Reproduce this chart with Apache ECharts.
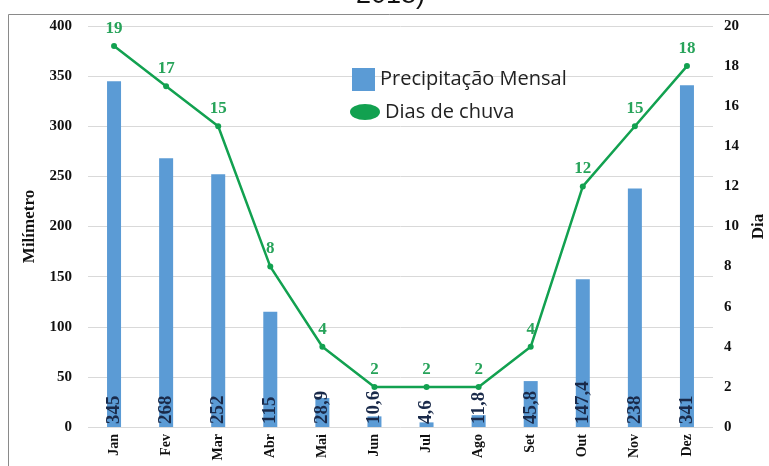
<!DOCTYPE html>
<html>
<head>
<meta charset="utf-8">
<script src="https://cdn.jsdelivr.net/npm/echarts@6.0.0/dist/echarts.min.js"></script>
<style>
  html, body { margin: 0; padding: 0; background: #ffffff; }
  #chart { width: 769px; height: 466px; }
</style>
</head>
<body>
<div id="chart"></div>
<script>
const months = ["Jan", "Fev", "Mar", "Abr", "Mai", "Jun", "Jul", "Ago", "Set", "Out", "Nov", "Dez"];
const rainfall = [345, 268, 252, 115, 28.9, 10.6, 4.6, 11.8, 45.8, 147.4, 238, 341];
const rainyDays = [19, 17, 15, 8, 4, 2, 2, 2, 4, 12, 15, 18];
const mmTicks = [0, 50, 100, 150, 200, 250, 300, 350, 400];
const dayTicks = [0, 2, 4, 6, 8, 10, 12, 14, 16, 18, 20];

const BAR_NAME = "Precipitação Mensal";
const LINE_NAME = "Dias de chuva";
const SERIF = "'Liberation Serif', 'DejaVu Serif', serif";
const SANS = "'Open Sans', 'Liberation Sans', sans-serif";

function formatComma(value) {
  return String(value).replace(".", ",");
}

const chart = echarts.init(document.getElementById("chart"));

const axisLabelStyle = {
  color: "#111",
  fontFamily: SERIF,
  fontWeight: "bold",
  fontSize: 15,
};

chart.setOption({
  animation: false,
  title: {
    text: "2018)",
    left: 351,
    top: -23,
    textStyle: { fontFamily: "'Liberation Sans', Arial, sans-serif", fontWeight: "normal", fontSize: 27, color: "#111" },
  },
  graphic: [
    {
      type: "rect",
      shape: { x: 8.5, y: 14.5, width: 800, height: 500 },
      style: { fill: "none", stroke: "#8a8a8a", lineWidth: 1 },
      silent: true,
    },
  ],
  grid: { left: 88, right: 56, top: 26, bottom: 39, containLabel: false, outerBoundsMode: "none" },
  legend: [
    {
      data: [{ name: BAR_NAME, icon: "rect" }],
      left: 347,
      top: 63,
      itemWidth: 23,
      itemHeight: 23,
      textStyle: { fontFamily: SANS, fontSize: 20, color: "#222" },
    },
    {
      data: [{ name: LINE_NAME, icon: "path://M0,8a15,8 0 1,0 30,0a15,8 0 1,0 -30,0z" }],
      left: 345,
      top: 97,
      itemWidth: 30,
      itemHeight: 16,
      itemStyle: { color: "#12a150" },
      textStyle: { fontFamily: SANS, fontSize: 20, color: "#222" },
    },
  ],
  xAxis: {
    type: "category",
    data: months,
    axisLine: { show: false },
    axisTick: { show: false },
    axisLabel: { ...axisLabelStyle, fontSize: 14, rotate: 90, margin: 7 },
  },
  yAxis: [
    {
      type: "value",
      min: mmTicks[0],
      max: mmTicks[mmTicks.length - 1],
      interval: 50,
      name: "Milímetro",
      nameLocation: "middle",
      nameGap: 47,
      nameRotate: 90,
      nameTextStyle: { ...axisLabelStyle, fontSize: 17 },
      axisLine: { show: false },
      axisTick: { show: false },
      axisLabel: { ...axisLabelStyle, margin: 16 },
      splitLine: { lineStyle: { color: "#d9d9d9" } },
    },
    {
      type: "value",
      min: dayTicks[0],
      max: dayTicks[dayTicks.length - 1],
      interval: 2,
      name: "Dia",
      nameLocation: "middle",
      nameGap: 36,
      nameRotate: 90,
      nameTextStyle: { ...axisLabelStyle, fontSize: 17 },
      axisLine: { show: false },
      axisTick: { show: false },
      axisLabel: { ...axisLabelStyle, margin: 11 },
      splitLine: { show: false },
    },
  ],
  series: [
    {
      name: BAR_NAME,
      type: "bar",
      data: rainfall,
      barWidth: 14,
      itemStyle: { color: "#5b9bd5" },
      label: {
        show: true,
        position: "insideBottom",
        rotate: 90,
        align: "left",
        verticalAlign: "middle",
        distance: 3,
        color: "#1a2a4a",
        fontFamily: SERIF,
        fontWeight: "bold",
        fontSize: 19,
        formatter: (p) => formatComma(p.value),
      },
    },
    {
      name: LINE_NAME,
      type: "line",
      yAxisIndex: 1,
      data: rainyDays,
      symbol: "circle",
      symbolSize: 6,
      lineStyle: { color: "#12a150", width: 2.5 },
      itemStyle: { color: "#12a150" },
      label: {
        show: true,
        position: "top",
        distance: 6,
        color: "#27a35a",
        fontFamily: SERIF,
        fontWeight: "bold",
        fontSize: 17,
      },
    },
  ],
});
</script>
</body>
</html>
